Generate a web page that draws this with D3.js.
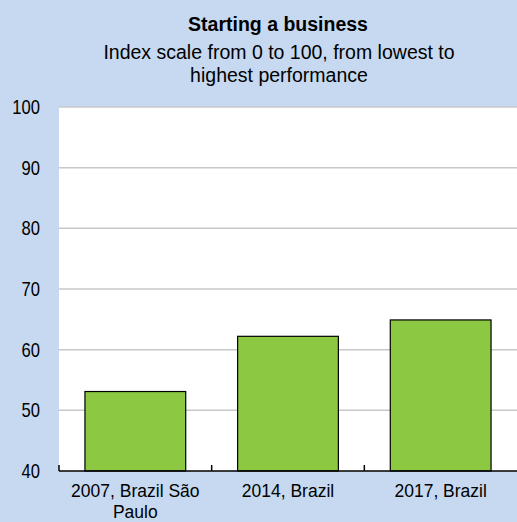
<!DOCTYPE html>
<html>
<head>
<meta charset="UTF-8">
<script src="https://cdn.jsdelivr.net/npm/d3@7"></script>
<style>
body { margin: 0; background: #c6d9f0; }
text { font-family: "Liberation Sans", Arial, sans-serif; fill: #000; }
</style>
</head>
<body>
<div id="chart"></div>
<script>
var categories = ["2007, Brazil São Paulo", "2014, Brazil", "2017, Brazil"];
var values = [53.1, 62.2, 64.9];
var yTicks = [40, 50, 60, 70, 80, 90, 100];

var W = 517, H = 522;
var mLeft = 59, mRight = 517, mTop = 107, mBottom = 471;

var svg = d3.select("#chart").append("svg")
	.attr("width", W).attr("height", H);

svg.append("rect").attr("width", W).attr("height", H).attr("fill", "#c6d9f0");

// title
svg.append("text").attr("x", 278).attr("y", 31).attr("text-anchor", "middle")
	.style("font-size", "19.5px").style("font-weight", "bold").text("Starting a business");
svg.append("text").attr("x", 279).attr("y", 59).attr("text-anchor", "middle")
	.style("font-size", "19.5px").text("Index scale from 0 to 100, from lowest to");
svg.append("text").attr("x", 279).attr("y", 82).attr("text-anchor", "middle")
	.style("font-size", "19.5px").text("highest performance");

var x = d3.scaleBand().domain(categories).range([mLeft, mRight]).paddingInner(0).paddingOuter(0);
var y = d3.scaleLinear().domain([40, 100]).range([mBottom, mTop]);

// plot area
svg.append("rect").attr("x", mLeft).attr("y", mTop)
	.attr("width", mRight - mLeft).attr("height", mBottom - mTop).attr("fill", "#fff");

// gridlines
svg.append("g").selectAll("line").data(yTicks.slice(1)).enter().append("line")
	.attr("x1", mLeft).attr("x2", mRight)
	.attr("y1", function(d){ return y(d); }).attr("y2", function(d){ return y(d); })
	.attr("stroke", "#c8c8c8").attr("stroke-width", 1.5);

// y labels (narrow-looking, so squeeze horizontally)
svg.append("g").selectAll("text").data(yTicks).enter().append("text")
	.attr("transform", function(d){ return "translate(40," + (y(d) + 7) + ") scale(0.83,1)"; })
	.attr("text-anchor", "end").style("font-size", "20px")
	.text(function(d){ return d; });

// bars
var bw = x.bandwidth() * 0.66;
svg.append("g").selectAll("rect").data(values).enter().append("rect")
	.attr("x", function(d, i){ return x(categories[i]) + (x.bandwidth() - bw) / 2; })
	.attr("y", function(d){ return y(d); })
	.attr("width", bw)
	.attr("height", function(d){ return y(40) - y(d); })
	.attr("fill", "#8cc841").attr("stroke", "#000").attr("stroke-width", 1.2);

// x axis line and ticks
svg.append("line").attr("x1", mLeft).attr("x2", mRight)
	.attr("y1", mBottom).attr("y2", mBottom).attr("stroke", "#000").attr("stroke-width", 1.5);
svg.append("g").selectAll("line").data(categories).enter().append("line")
	.attr("x1", function(d){ return x(d); }).attr("x2", function(d){ return x(d); })
	.attr("y1", mBottom).attr("y2", mBottom - 6)
	.attr("stroke", "#000").attr("stroke-width", 1.5);

// x labels
var xl = svg.append("g").selectAll("text").data(categories).enter().append("text")
	.attr("text-anchor", "middle").style("font-size", "17.5px")
	.attr("x", function(d){ return x(d) + x.bandwidth() / 2; })
	.attr("y", 497);
xl.each(function(d){
	var t = d3.select(this);
	var lines = d === "2007, Brazil São Paulo" ? ["2007, Brazil São", "Paulo"] : [d];
	lines.forEach(function(s, i){
		t.append("tspan").attr("x", t.attr("x")).attr("dy", i === 0 ? 0 : 21).text(s);
	});
});
</script>
</body>
</html>
